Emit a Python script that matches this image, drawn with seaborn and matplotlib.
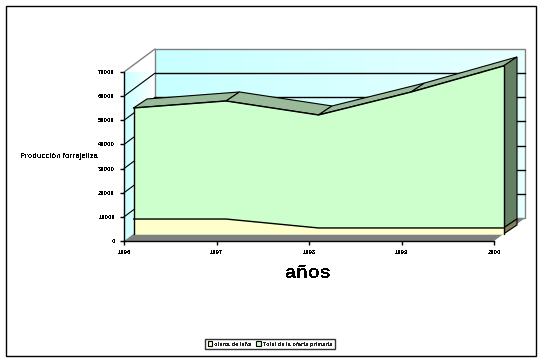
import numpy as np
import matplotlib
matplotlib.use("Agg")
import matplotlib.pyplot as plt
from matplotlib.patches import Polygon, Rectangle, Patch
from matplotlib.transforms import Affine2D
from matplotlib.colors import LinearSegmentedColormap
import seaborn as sns
import pandas as pd

years = [1996, 1997, 1998, 1999, 2000]
lena = [6200, 6200, 2500, 2500, 2500]
total = [52200, 55100, 49300, 58800, 69600]
yticks = [0, 10000, 20000, 30000, 40000, 50000, 60000, 70000]
ylabel_text = "Producción forrajeliza"
xlabel_text = "años"
legend_names = ["oferta de leña", "Total de la oferta primaria"]

W, H = 541, 360
sns.set_theme(style="white")
plt.rcParams["font.family"] = ["Liberation Sans", "DejaVu Sans"]
plt.rcParams["text.antialiased"] = False
fig = plt.figure(figsize=(W / 100, H / 100), dpi=100, facecolor="white")
L, R, T, B = 124, 494, 72, 241
ax = fig.add_axes([L / W, 1 - B / H, (R - L) / W, (B - T) / H])
ax.set_xlim(years[0], years[-1])
ax.set_ylim(0, 70000)
ax.patch.set_alpha(0)
sns.despine(ax=ax, top=True, right=True)


def off(dx, dy):
    return ax.transData + Affine2D().translate(dx, dy)


x0, x1 = years[0], years[-1]
ymax = yticks[-1]
BACK = (31, 23)
A1 = (9.5, 7)
A2 = (23, 16)

# back wall gradient
wall = LinearSegmentedColormap.from_list("w", ["#c8ffff", "#e6ffff"])
g = np.linspace(0, 1, 64).reshape(1, -1)
ax.imshow(g, cmap=wall, extent=(x0, x1, 0, ymax), aspect="auto",
          transform=off(*BACK), clip_on=False, zorder=1)
ax.set_xlim(x0, x1)
ax.set_ylim(0, ymax)
back_frame = Rectangle((x0, 0), x1 - x0, ymax, fill=False, ec="#808080", lw=1,
                       transform=off(*BACK), clip_on=False, zorder=1.5)
ax.add_patch(back_frame)

# left wall gradient
wall2 = LinearSegmentedColormap.from_list("w2", ["#c8ffff", "#ffffff"])
side = Polygon([[L, H - B], [L + 31, H - B + 23], [L + 31, H - T + 23], [L, H - T]],
               transform=None, fc="none", ec="none", clip_on=False)
fig.add_artist(side)
im = ax.imshow(g, cmap=wall2, extent=(x0, x0 + 31 / 92.5, 0, ymax * 1.2), aspect="auto",
               clip_on=True, zorder=1, transform=ax.transData)
im.set_clip_path(side)
ax.set_xlim(x0, x1)
ax.set_ylim(0, ymax)

# floor
ax.add_patch(Polygon([[L, H - B], [R, H - B], [R + 31, H - B + 23], [L + 31, H - B + 23]],
                     transform=None, fc="#808080", ec="none", clip_on=False, zorder=1.6))

# gridlines
for v in yticks[1:-1]:
    ax.plot([x0, x1], [v, v], color="black", lw=1, transform=off(*BACK), clip_on=False, zorder=2)
    p0 = ax.transData.transform((x0, v))
    ax.plot([p0[0], p0[0] + 31], [p0[1], p0[1] + 23], color="black", lw=0.8,
            transform=None, clip_on=False, zorder=2)
ax.plot([L, L + 31], [H - T, H - T + 23], color="#808080", lw=1, transform=None, clip_on=False, zorder=2)

df = pd.DataFrame({"year": years, "lena": lena, "total": total})

# top surface
d = np.subtract(A2, A1)
for i in range(len(years) - 1):
    a = ax.transData.transform((years[i], total[i])) + A1
    b = ax.transData.transform((years[i + 1], total[i + 1])) + A1
    pts = [a, b, b + d, a + d]
    ax.add_patch(Polygon(pts, transform=None, fc="#99bb99", ec="black", lw=0.8, clip_on=False, zorder=3))

# right end
ra = ax.transData.transform((x1, total[-1])) + A1
rl = ax.transData.transform((x1, lena[-1])) + A1
r0 = ax.transData.transform((x1, 0)) + A1
ax.add_patch(Polygon([ra, ra + d, rl + d, rl], transform=None, fc="#658065", ec="black", lw=0.8, clip_on=False, zorder=3))
ax.add_patch(Polygon([rl, rl + d, r0 + d, r0], transform=None, fc="#80805f", ec="black", lw=0.8, clip_on=False, zorder=3))

# front faces
ax.fill_between(years, 0, total, color="#ccffcc", lw=0, transform=off(*A1), clip_on=False, zorder=4)
ax.fill_between(years, 0, lena, color="#ffffcc", lw=0, transform=off(*A1), clip_on=False, zorder=4.1)
sns.lineplot(data=df, x="year", y="total", color="black", lw=1, ax=ax, transform=off(*A1), clip_on=False, zorder=5)
sns.lineplot(data=df, x="year", y="lena", color="black", lw=1, ax=ax, transform=off(*A1), clip_on=False, zorder=5)
ax.plot([x0, x0], [0, total[0]], color="black", lw=1, transform=off(*A1), clip_on=False, zorder=5)
ax.plot([x1, x1], [0, total[-1]], color="black", lw=1, transform=off(*A1), clip_on=False, zorder=5)

# axes
for s in ["left", "bottom"]:
    ax.spines[s].set_color("black")
    ax.spines[s].set_linewidth(1)
    ax.spines[s].set_zorder(6)
ax.set_xticks(years)
ax.set_xticklabels([str(y) for y in years], fontsize=4.2, fontweight="bold", color="black")
ax.set_yticks(yticks)
ax.set_yticklabels([str(v) for v in yticks], fontsize=4.2, fontweight="bold", color="black")
ax.tick_params(axis="both", length=3, width=1, color="black", pad=3.5, left=True, bottom=True)
ax.set_xlabel("")
ax.set_ylabel("")

fig.text(59 / W, 1 - 156.5 / H, ylabel_text, fontsize=5.3, fontweight="bold", color="black",
         ha="center", va="center")
fig.text(308 / W, 1 - 273 / H, xlabel_text, fontsize=14, fontweight="bold", color="black",
         ha="center", va="center")

# legend
handles = [Patch(fc="#ffffcc", ec="black", lw=0.8), Patch(fc="#ccffcc", ec="black", lw=0.8)]
leg = fig.legend(handles, legend_names, loc="center", bbox_to_anchor=(270 / W, 1 - 344 / H),
                 ncol=2, frameon=True, fancybox=False, edgecolor="black",
                 handlelength=0.8, handleheight=0.8, handletextpad=0.4, columnspacing=0.8,
                 borderpad=0.5, prop={"size": 4.1, "weight": "bold"})
leg.get_frame().set_linewidth(1)

# outer frame
fig.add_artist(Rectangle((5.5 / W, 1 - 355.5 / H), 530 / W, 350 / H, transform=fig.transFigure,
                         fill=False, ec="black", lw=1))
fig.savefig("out.png", dpi=100)
